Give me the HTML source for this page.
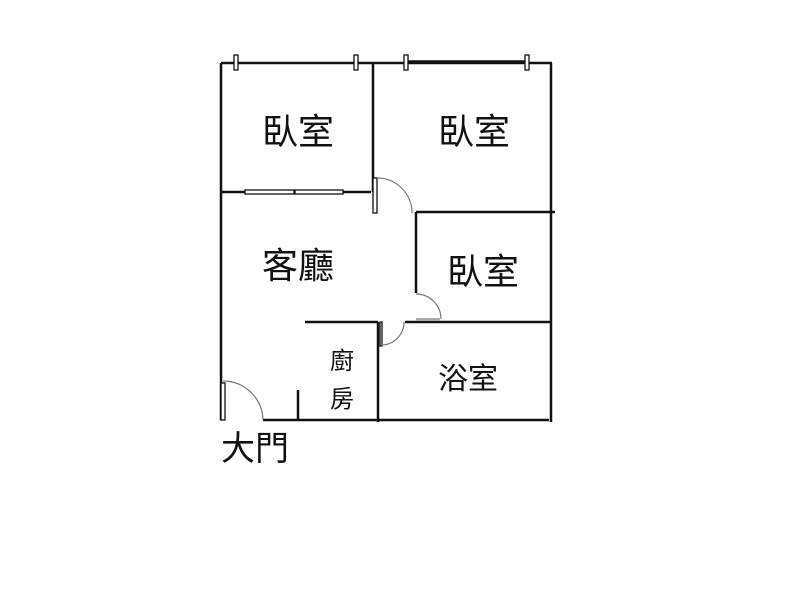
<!DOCTYPE html>
<html><head><style>
body{margin:0;background:#fff;width:800px;height:600px;overflow:hidden}
svg{position:absolute;left:0;top:0}
text{font-family:"Liberation Sans","Noto Sans CJK TC",sans-serif;fill:#111}
</style></head><body>
<svg width="800" height="600">
<g stroke="#111" stroke-width="2.5" fill="none">
<line x1="221" y1="63" x2="552" y2="63"/>
<line x1="221" y1="63" x2="221" y2="420"/>
<line x1="551" y1="63" x2="551" y2="422"/>
<line x1="373" y1="63" x2="373" y2="192"/>
<line x1="222" y1="192" x2="245" y2="192"/>
<line x1="343" y1="192" x2="371" y2="192"/>
<line x1="416" y1="212" x2="555" y2="212"/>
<line x1="416" y1="212" x2="416" y2="293"/>
<line x1="305" y1="322" x2="378" y2="322"/>
<line x1="405" y1="322" x2="551" y2="322"/>
<line x1="378" y1="322" x2="378" y2="422"/>
<line x1="263" y1="420" x2="549" y2="420"/>
<line x1="298" y1="390" x2="298" y2="420"/>
<line x1="406" y1="62" x2="528" y2="62" stroke-width="3.5"/>
</g>
<g stroke="#111" stroke-width="1.3" fill="#fff">
<rect x="234" y="55" width="4" height="15"/>
<rect x="354" y="55" width="4" height="15"/>
<rect x="404" y="55" width="4" height="15"/>
<rect x="525" y="55" width="4" height="15"/>
<rect x="245" y="190" width="49" height="4"/>
<rect x="295" y="190" width="48" height="4"/>
<rect x="373" y="178" width="4" height="35"/>
<rect x="221" y="383" width="4" height="37"/>
<rect x="380" y="322" width="2" height="24"/>
</g>
<rect x="416" y="318" width="24" height="3" fill="#aaa"/>
<g stroke="#777" stroke-width="1.2" fill="none">
<path d="M377 178 A35 35 0 0 1 412 213"/>
<path d="M416 294 A25 25 0 0 1 441 319"/>
<path d="M404 322 A23 23 0 0 1 381 345"/>
<path d="M223 381 A40 40 0 0 1 263 420"/>
</g>
<g font-size="36">
<text x="262" y="144">臥室</text>
<text x="438" y="144">臥室</text>
<text x="262" y="278">客廳</text>
<text x="447" y="284">臥室</text>
<text x="221" y="460" font-size="34">大門</text>
</g>
<text x="438" y="389" font-size="30">浴室</text>
<text x="330" y="369" font-size="24">廚</text>
<text x="330" y="407" font-size="24">房</text>
</svg>
</body></html>
